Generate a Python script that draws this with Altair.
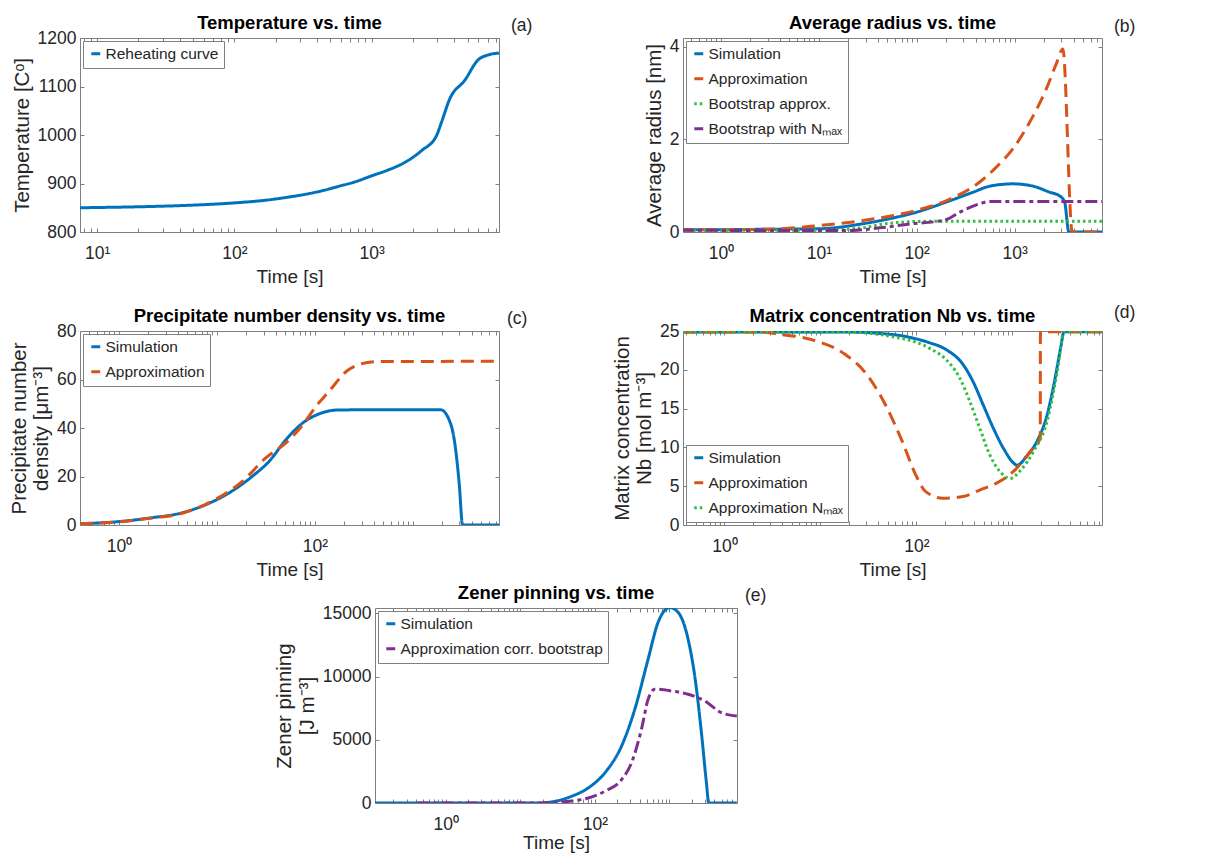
import altair as alt
import pandas as pd

FONT = "Liberation Sans"
BLUE = "#0072BD"
ORANGE = "#D95319"
GREEN = "#2DBE3C"
PURPLE = "#7E2F8E"

# ---------------- data ----------------
# (a) Temperature vs. time
a_t = [7.5, 10, 20, 46, 100, 187, 248, 327, 450, 573, 750, 1000, 1322, 1746, 2311, 2972, 3230, 3715, 4775, 5970, 7050, 8470]
a_T = [850, 850.5, 852, 855, 860, 867, 872, 877.6, 886, 894, 903, 915.8, 928, 943.5, 967.8, 999, 1026.7, 1075, 1113, 1155, 1165, 1168.8]

# (b) Average radius vs. time
b_sim_t = [0.4, 1, 3, 10, 28.5, 62, 100, 202, 377, 557, 962, 1538, 2275, 2877, 3236, 3580, 8000]
b_sim_v = [0.05, 0.05, 0.06, 0.07, 0.18, 0.32, 0.43, 0.65, 0.86, 0.99, 1.04, 0.99, 0.86, 0.78, 0.65, 0.0, 0.0]
b_app_t = [0.4, 1, 4, 10, 28.5, 100, 202, 440, 650, 962, 1422, 2104, 2660, 3110, 3873, 8000]
b_app_v = [0.05, 0.05, 0.07, 0.14, 0.25, 0.47, 0.68, 1.08, 1.40, 1.80, 2.37, 3.09, 3.63, 3.95, 0.0, 0.0]
b_bs_t = [0.4, 10, 28, 42, 79, 120, 8000]
b_bs_v = [0.04, 0.04, 0.09, 0.16, 0.22, 0.23, 0.23]
b_bn_t = [0.4, 5, 20, 42, 92, 150, 202, 276, 440, 557, 8000]
b_bn_v = [0.04, 0.03, 0.03, 0.09, 0.18, 0.22, 0.27, 0.43, 0.61, 0.66, 0.66]

# (c) Precipitate number density vs. time
c_sim_t = [0.4, 1, 2.17, 4.08, 7.1, 13.4, 23.2, 34.4, 51, 76, 112, 167, 300, 1000, 1932, 2449, 2755, 2985, 3230, 8000]
c_sim_v = [0.5, 1.4, 3.0, 4.7, 7.8, 13.3, 20.2, 26.4, 35.3, 42.2, 45.9, 47.4, 47.5, 47.5, 47.5, 41.5, 30.5, 16.8, 0, 0]
c_app_t = [0.4, 1, 2.17, 4.08, 9.0, 18.3, 31.8, 51, 76, 103, 141, 212, 290, 431, 8000]
c_app_v = [0.5, 1.3, 2.9, 4.5, 9.9, 18.1, 27.8, 34.0, 41.5, 49, 55.3, 63.5, 66.3, 67.4, 67.5]

# (d) Matrix concentration Nb vs. time
d_sim_t = [0.37, 18, 60.6, 91, 136, 204, 305, 388, 495, 631, 804, 1025, 1111, 1416, 1805, 2298, 2703, 3177, 3444, 8600]
d_sim_v = [24.87, 24.87, 24.5, 24.1, 23.5, 22.6, 20.7, 18.5, 15.5, 12.5, 9.9, 8.0, 7.7, 8.9, 10.8, 14.2, 18.1, 22.8, 24.9, 24.9]
d_app_t = [0.37, 2.4, 3.6, 8.0, 18, 29, 47.5, 71, 98, 125, 188, 305, 456, 684, 1025, 1535, 1950, 1955, 8600]
d_app_v = [24.87, 24.87, 24.6, 23.9, 22.0, 19.7, 15.5, 10.8, 6.5, 4.3, 3.45, 3.66, 4.5, 5.4, 6.9, 9.5, 11.2, 24.9, 24.9]
d_nmx_t = [0.37, 18, 60.6, 136, 204, 281, 358, 456, 582, 741, 944, 1205, 1664, 2298, 2930, 3444, 8600]
d_nmx_v = [24.87, 24.87, 24.2, 22.8, 21.3, 19.0, 16.0, 12.5, 9.0, 6.9, 6.0, 7.0, 9.5, 13.4, 19.8, 24.9, 24.9]

# (e) Zener pinning vs. time
e_sim_t = [0.113, 17, 29, 48.7, 81.5, 136, 228, 343, 518, 705, 1010, 1306, 1778, 2183, 2685, 3133, 3367, 8000]
e_sim_v = [0, 0, 130, 530, 1190, 2380, 4500, 7400, 11380, 14290, 15450, 15080, 12960, 10050, 5560, 1590, 0, 0]
e_cb_t = [0.42, 17, 48.7, 81.5, 136, 228, 310, 421, 518, 637, 1063, 1778, 2971, 4966, 8000]
e_cb_v = [0, 0, 150, 400, 930, 1850, 3170, 5820, 8200, 9000, 8860, 8600, 8070, 7140, 6880]

SUP = {0.1: "10⁻¹", 1: "10⁰", 10: "10¹", 100: "10²", 1000: "10³"}

DASH_SOLID = [1, 0]
DASH_DASHED = [13, 7]
DASH_DOTTED = [2.5, 3]
DASH_DASHDOT = [12, 4, 4, 4]


def log_ticks(lo, hi):
    vals = []
    for e in range(-2, 5):
        for m in range(1, 10):
            v = round(m * 10.0 ** e, 6)
            if lo <= v <= hi:
                vals.append(v)
    return vals


def panel(series, names, colors, dashes, xdom, ydom, yvals, xlabels, title,
          ytitle, tag, tag_dx, tag_dy, legend_orient, w, h, xtitle_pad=6):
    rows = []
    for name, (ts, vs) in zip(names, series):
        for t, v in zip(ts, vs):
            rows.append({"t": t, "v": v, "series": name})
    df = pd.DataFrame(rows)
    xt = log_ticks(xdom[0], xdom[1])
    expr = " : ".join(f"datum.value == {v} ? '{SUP[v]}'" for v in xlabels) + " : ''"
    xs = alt.Scale(type="log", domain=xdom, nice=False)
    ys = alt.Scale(domain=ydom, nice=False, zero=False)
    leg = alt.Legend(title=None, orient=legend_orient, offset=3, fillColor="white",
                     strokeColor="#808080", padding=5, labelFontSize=15.5, labelFont=FONT,
                     labelColor="#262626", symbolType="stroke", symbolSize=80,
                     symbolStrokeWidth=3, rowPadding=8, labelLimit=0, labelOffset=2,
                     cornerRadius=0)
    lines = alt.Chart(df).mark_line(strokeWidth=3, clip=True, interpolate="monotone").encode(
        x=alt.X("t:Q", scale=xs,
                axis=alt.Axis(values=xt, labelExpr=expr, offset=-4, tickSize=4,
                              labelPadding=12, title="Time [s]", titlePadding=xtitle_pad)),
        y=alt.Y("v:Q", scale=ys,
                axis=alt.Axis(values=yvals, format="d", offset=-4, tickSize=4,
                              labelPadding=4, title=ytitle, titlePadding=5,
                              titleFontSize=20.5)),
        color=alt.Color("series:N", sort=names,
                        scale=alt.Scale(domain=names, range=colors), legend=leg),
        strokeDash=alt.StrokeDash("series:N", sort=names,
                                  scale=alt.Scale(domain=names, range=dashes), legend=leg),
    )
    frame = alt.Chart(df).mark_point(opacity=0).encode(
        x=alt.X("t:Q", scale=xs,
                axis=alt.Axis(orient="top", values=xt, labels=False, offset=-4,
                              tickSize=4, title=None)),
        y=alt.Y("v:Q", scale=ys,
                axis=alt.Axis(orient="right", values=yvals, labels=False, offset=-4,
                              tickSize=4, title=None)),
    )
    lab = alt.Chart(pd.DataFrame({"lab": [tag]})).mark_text(
        align="left", baseline="middle", fontSize=17.5, font=FONT, color="#262626"
    ).encode(x=alt.value(w + tag_dx), y=alt.value(tag_dy), text="lab:N")
    bounds_top = min(0, tag_dy - 9)
    return alt.layer(lines, frame, lab).resolve_axis(
        x="independent", y="independent"
    ).resolve_scale(color="independent", strokeDash="independent").properties(
        width=w, height=h,
        title=alt.TitleParams(title, fontSize=18.5, fontWeight="bold", font=FONT,
                              offset=bounds_top + 5.5),
    )


W, H = 419, 194

pa = panel([(a_t, a_T)], ["Reheating curve"], [BLUE], [DASH_SOLID],
           [7.5, 8470], [800, 1200], [800, 900, 1000, 1100, 1200], [10, 100, 1000],
           "Temperature vs. time", "Temperature [Cᵒ]", "(a)", 12, -12, "top-left", W, H)

pb = panel([(b_sim_t, b_sim_v), (b_app_t, b_app_v), (b_bs_t, b_bs_v), (b_bn_t, b_bn_v)],
           ["Simulation", "Approximation", "Bootstrap approx.", "Bootstrap with Nₘₐₓ"],
           [BLUE, ORANGE, GREEN, PURPLE], [DASH_SOLID, DASH_DASHED, DASH_DOTTED, DASH_DASHDOT],
           [0.41, 7800], [0, 4.19], [0, 2, 4], [1, 10, 100, 1000],
           "Average radius vs. time", "Average radius [nm]", "(b)", 12, -11, "top-left", W, H)

pc = panel([(c_sim_t, c_sim_v), (c_app_t, c_app_v)], ["Simulation", "Approximation"],
           [BLUE, ORANGE], [DASH_SOLID, DASH_DASHED],
           [0.40, 7600], [0, 80], [0, 20, 40, 60, 80], [1, 100],
           "Precipitate number density vs. time", ["Precipitate number", "density [μm⁻³]"],
           "(c)", 8, -12, "top-left", W, H)

pd_ = panel([(d_sim_t, d_sim_v), (d_app_t, d_app_v), (d_nmx_t, d_nmx_v)],
            ["Simulation", "Approximation", "Approximation Nₘₐₓ"],
            [BLUE, ORANGE, GREEN], [DASH_SOLID, DASH_DASHED, DASH_DOTTED],
            [0.37, 8570], [0, 25], [0, 5, 10, 15, 20, 25], [1, 100],
            "Matrix concentration Nb vs. time", ["Matrix concentration", "Nb [mol m⁻³]"],
            "(d)", 12, -18, "bottom-left", W, H)

pe = panel([(e_sim_t, e_sim_v), (e_cb_t, e_cb_v)],
           ["Simulation", "Approximation corr. bootstrap"],
           [BLUE, PURPLE], [DASH_SOLID, DASH_DASHDOT],
           [0.113, 8050], [0, 15420], [0, 5000, 10000, 15000], [1, 100],
           "Zener pinning vs. time", ["Zener pinning", "[J m⁻³]"],
           "(e)", 8, -12, "top-left", 362, 195, xtitle_pad=1)

spacer = alt.Chart(pd.DataFrame({"s": [0]})).mark_point(opacity=0).encode(
    x=alt.value(0), y=alt.value(0)
).properties(width=295, height=195, view=alt.ViewBackground(stroke="transparent"))

IND = dict(color="independent", strokeDash="independent")
row1 = alt.hconcat(pa, pb, spacing=184, bounds="flush").resolve_scale(**IND)
row2 = alt.hconcat(pc, pd_, spacing=184, bounds="flush").resolve_scale(**IND)
row3 = alt.hconcat(spacer, pe, spacing=0, bounds="flush").resolve_scale(**IND)
top2 = alt.vconcat(row1, row2, spacing=293, bounds="flush").resolve_scale(**IND)

chart = alt.vconcat(top2, row3, spacing=570, bounds="flush").resolve_scale(**IND).configure_axis(
    labelFont=FONT, titleFont=FONT, labelFontSize=17.5, titleFontSize=19,
    titleFontWeight="normal", labelColor="#262626", titleColor="#262626",
    grid=False, domain=False, tickColor="#808080", tickWidth=1,
).configure_view(stroke="#808080", strokeWidth=1).configure_title(
    font=FONT, fontSize=18.5, fontWeight="bold", color="black"
).properties(background="white", padding={"left": 0, "top": 5, "right": 5, "bottom": 0})

chart.save("out.html", embed_options={"renderer": "svg", "actions": False})
